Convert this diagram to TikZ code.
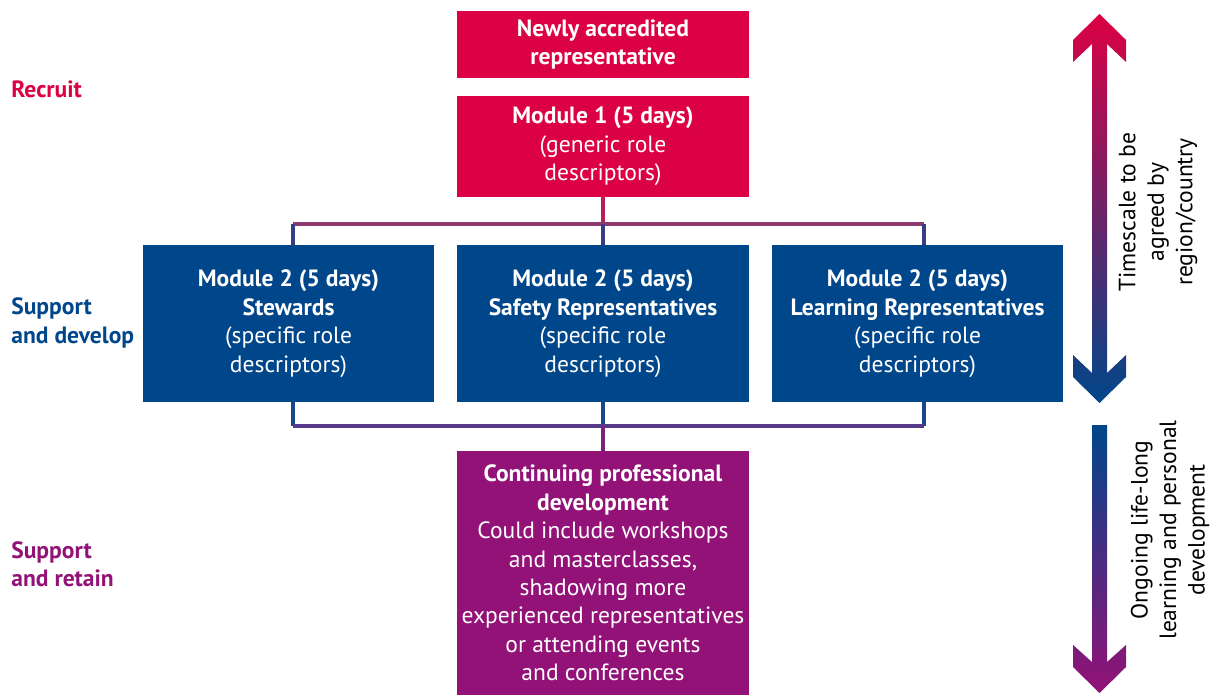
\documentclass[tikz,border=0pt]{standalone}
\usepackage{fontspec}
\setmainfont{PT Sans}
\usetikzlibrary{calc}

\definecolor{recruitred}{RGB}{220,0,68}
\definecolor{developblue}{RGB}{0,70,138}
\definecolor{retainpurple}{RGB}{147,18,119}
\definecolor{stemred}{RGB}{185,30,90}
\definecolor{barmauve}{RGB}{140,58,112}
\definecolor{dropblue}{RGB}{55,62,132}
\definecolor{upblue}{RGB}{25,70,140}
\definecolor{barviolet}{RGB}{88,56,138}
\definecolor{stemviolet}{RGB}{122,34,125}

\begin{document}
\begin{tikzpicture}
  [x=0.02cm,y=-0.02cm,
   every node/.style={font=\fontsize{13.4}{16.2}\selectfont},
   box/.style={rectangle,inner sep=0pt,align=center,text=white,minimum width=5.84cm},
   stage/.style={anchor=west,align=left,inner sep=0pt,font=\fontsize{13.4}{16.2}\selectfont\bfseries},
   conn/.style={line width=2.3pt}]
  \useasboundingbox (0,0) rectangle (1216,695);

  % boxes
  \node[box,fill=recruitred,minimum height=1.34cm] (new) at (603,44.5)
    {\textbf{Newly accredited}\\\textbf{representative}};
  \node[box,fill=recruitred,minimum height=2.02cm] (mod1) at (603,146.5)
    {\textbf{Module 1 (5 days)}\\(generic role\\descriptors)};
  \node[box,fill=developblue,minimum height=3.14cm,minimum width=5.82cm] (stew) at (288.5,323.5)
    {\textbf{Module 2 (5 days)}\\\textbf{Stewards}\\(specific role\\descriptors)};
  \node[box,fill=developblue,minimum height=3.14cm] (safe) at (603,323.5)
    {\textbf{Module 2 (5 days)}\\\textbf{Safety Representatives}\\(specific role\\descriptors)};
  \node[box,fill=developblue,minimum height=3.14cm,minimum width=5.82cm] (learn) at (917.5,323.5)
    {\textbf{Module 2 (5 days)}\\\textbf{Learning Representatives}\\(specific role\\descriptors)};
  \node[box,fill=retainpurple,minimum height=4.88cm] (cpd) at (603,573)
    {\textbf{Continuing professional}\\\textbf{development}\\Could include workshops\\and masterclasses,\\shadowing more\\experienced representatives\\or attending events\\and conferences};

  % stage labels
  \node[stage,text=recruitred] (recruit) at (11,89) {Recruit};
  \node[stage,text=developblue] (develop) at (11,323) {Support\\and develop};
  \node[stage,text=retainpurple] (retain) at (11,564) {Support\\and retain};

  % connectors
  \coordinate (tj) at (603,224);
  \coordinate (tl) at (293,224);
  \coordinate (tr) at (924,224);
  \coordinate (bj) at (603,426);
  \coordinate (bl) at (293,426);
  \coordinate (br) at (924,426);
  \draw[conn,stemred] (mod1.south) -- (tj);
  \draw[conn,barmauve] (tl) -- (tr);
  \foreach \c/\n in {tl/stew,tj/safe,tr/learn}
    \draw[conn,dropblue] (\c) -- (\c |- \n.north);
  \foreach \c/\n in {bl/stew,bj/safe,br/learn}
    \draw[conn,upblue] (\c |- \n.south) -- (\c);
  \draw[conn,barviolet] (bl) -- (br);
  \draw[conn,stemviolet] (bj) -- (cpd.north);

  % timescale arrows
  \shade[top color=recruitred,bottom color=developblue]
    (1099.5,14) -- (1126,40) -- (1126,62) -- (1107,44) -- (1107,373) -- (1126,355)
    -- (1126,377) -- (1099.5,403) -- (1073,377) -- (1073,355) -- (1092,373)
    -- (1092,44) -- (1073,62) -- (1073,40) -- cycle;
  \shade[top color=developblue,bottom color=retainpurple]
    (1092,425) -- (1107,425) -- (1107,662) -- (1126,645) -- (1126,667)
    -- (1099.5,693) -- (1073,667) -- (1073,645) -- (1092,662) -- cycle;
  \node[rotate=90,align=center] (timescale) at (1158,212)
    {Timescale to be\\agreed by\\region/country};
  \node[rotate=90,align=center] (lifelong) at (1170,530)
    {Ongoing life-long\\learning and personal\\development};
\end{tikzpicture}
\end{document}
